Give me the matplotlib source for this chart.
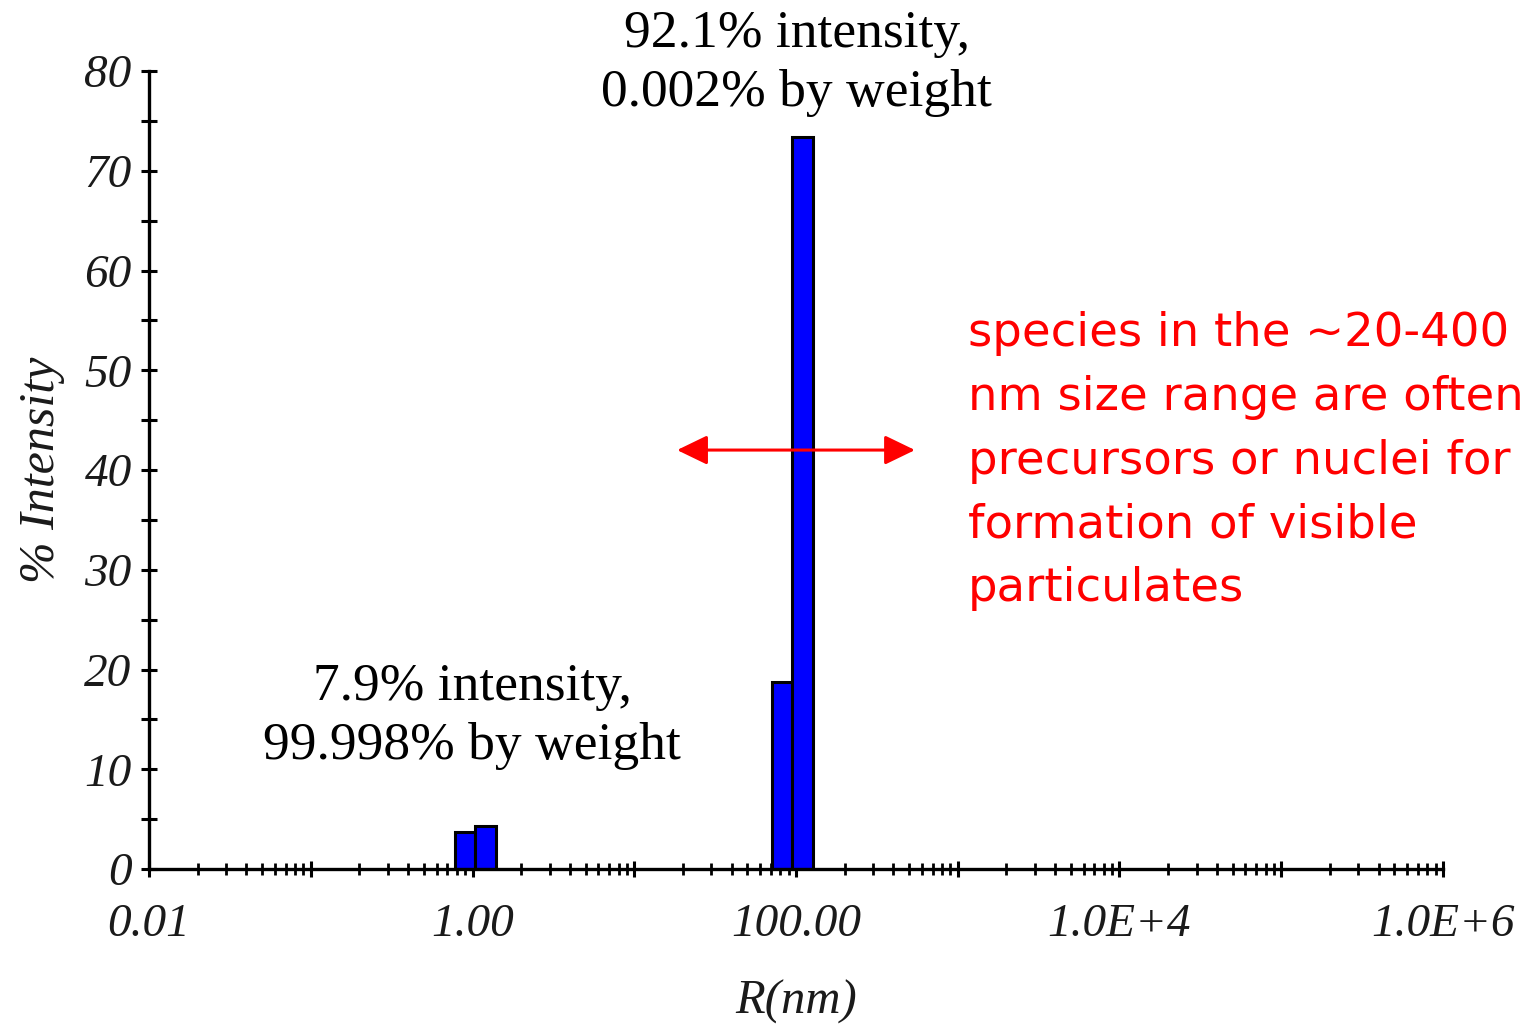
import matplotlib
matplotlib.use('Agg')
import matplotlib.pyplot as plt
import numpy as np
from matplotlib.patches import FancyArrowPatch

# bar bins (nm) and heights (% intensity)
bin_lo = [0.782, 1.04, 71.4, 94.9]
bin_hi = [1.04, 1.40, 94.9, 127.9]
intensity = [3.75, 4.3, 18.75, 73.4]

x_ticks = [1e-2, 1e-1, 1e0, 1e1, 1e2, 1e3, 1e4, 1e5, 1e6]
x_labels = ['0.01', '', '1.00', '', '100.00', '', '1.0E+4', '', '1.0E+6']
y_ticks = [0, 10, 20, 30, 40, 50, 60, 70, 80]

peak_small = "7.9% intensity,\n99.998% by weight"
peak_large = "92.1% intensity,\n0.002% by weight"
note = ("species in the ~20-400\nnm size range are often\n"
        "precursors or nuclei for\nformation of visible\nparticulates")
arrow_span = (18.4, 544.0)
arrow_y = 42.0

serif = 'Liberation Serif'

fig = plt.figure(figsize=(15.38, 10.26), dpi=100)
ax = fig.add_axes([0.0969, 0.153, 0.8413, 0.7778])

widths = np.array(bin_hi) - np.array(bin_lo)
ax.bar(bin_lo, intensity, width=widths, align='edge',
       color='#0000ff', edgecolor='black', linewidth=2.2, zorder=3)

ax.set_xscale('log')
ax.set_xlim(1e-2, 1e6)
ax.set_ylim(0, 80)

for s in ['top', 'right']:
    ax.spines[s].set_visible(False)
for s in ['left', 'bottom']:
    ax.spines[s].set_linewidth(2.4)
    ax.spines[s].set_zorder(4)

ax.set_xticks(x_ticks)
ax.set_xticklabels(x_labels)
ax.xaxis.set_minor_locator(matplotlib.ticker.LogLocator(base=10, subs=np.arange(2, 10), numticks=20))
ax.xaxis.set_minor_formatter(matplotlib.ticker.NullFormatter())
ax.set_yticks(y_ticks)
ax.yaxis.set_minor_locator(matplotlib.ticker.MultipleLocator(5))

ax.tick_params(axis='x', which='major', direction='inout', length=12, width=2.2, pad=19)
ax.tick_params(axis='x', which='minor', direction='inout', length=9, width=2.0)
ax.tick_params(axis='y', which='both', direction='inout', length=11, width=2.2, pad=7)

for lab in ax.get_xticklabels() + ax.get_yticklabels():
    lab.set_fontfamily(serif)
    lab.set_fontstyle('italic')
    lab.set_fontsize(34)
    lab.set_color('#1a1a1a')

ax.set_xlabel('R(nm)', fontfamily=serif, fontstyle='italic', fontsize=35,
              color='#1a1a1a', labelpad=24)
ax.set_ylabel('% Intensity', fontfamily=serif, fontstyle='italic', fontsize=36,
              color='#1a1a1a', labelpad=14)

ax.text(0.996, 15.3, peak_small, fontfamily=serif, fontsize=38.5, ha='center',
        va='center', linespacing=1.31, clip_on=False)
ax.text(100.9, 80.75, peak_large, fontfamily=serif, fontsize=38.5, ha='center',
        va='center', linespacing=1.31, clip_on=False)

ax.text(1156, 40.9, note, fontfamily='DejaVu Sans', fontsize=33.5, color='#ff0000',
        ha='left', va='center', linespacing=1.54, clip_on=False)

arr = FancyArrowPatch((arrow_span[0], arrow_y), (arrow_span[1], arrow_y),
                      arrowstyle='<|-|>,head_length=0.93,head_width=0.45',
                      mutation_scale=20, color='#ff0000', linewidth=2.2,
                      shrinkA=0, shrinkB=0, zorder=5)
ax.add_patch(arr)

fig.savefig('out.png', dpi=100)
